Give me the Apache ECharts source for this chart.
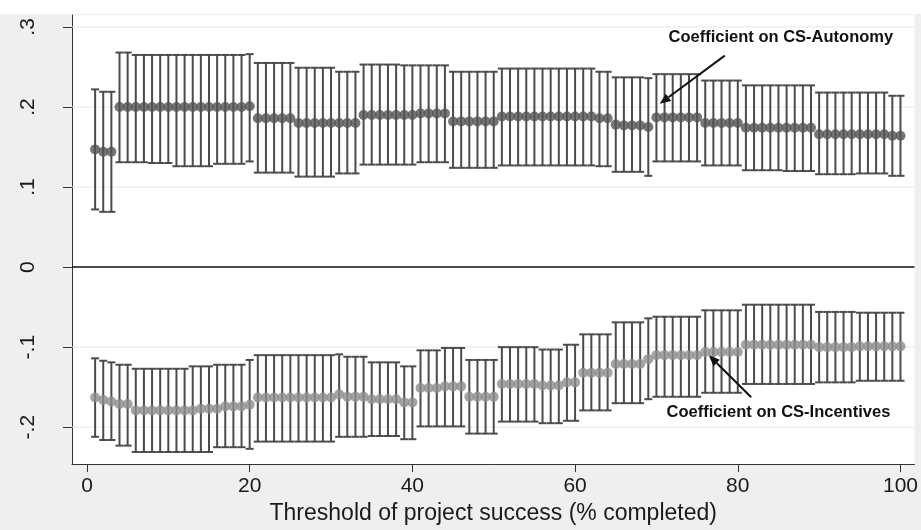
<!DOCTYPE html>
<html><head><meta charset="utf-8">
<script src="https://cdn.jsdelivr.net/npm/echarts@6/dist/echarts.min.js"></script>
<style>html,body{margin:0;padding:0;background:#efefef}#c{width:921px;height:530px}</style>
</head><body><div id="c"></div>
<script>
// ---- data ----
const thresholds = [
 1,2,3,4,5,6,7,8,9,10,
 11,12,13,14,15,16,17,18,19,20,
 21,22,23,24,25,26,27,28,29,30,
 31,32,33,34,35,36,37,38,39,40,
 41,42,43,44,45,46,47,48,49,50,
 51,52,53,54,55,56,57,58,59,60,
 61,62,63,64,65,66,67,68,69,70,
 71,72,73,74,75,76,77,78,79,80,
 81,82,83,84,85,86,87,88,89,90,
 91,92,93,94,95,96,97,98,99,100];

const autoCoef = [
 0.147,0.144,0.144,0.200,0.200,0.200,0.200,0.200,0.200,0.200,
 0.200,0.200,0.200,0.200,0.200,0.200,0.200,0.200,0.200,0.201,
 0.186,0.186,0.186,0.186,0.186,0.180,0.180,0.180,0.180,0.180,
 0.180,0.180,0.180,0.190,0.190,0.190,0.190,0.190,0.190,0.190,
 0.192,0.192,0.192,0.192,0.182,0.182,0.182,0.182,0.182,0.182,
 0.188,0.188,0.188,0.188,0.188,0.188,0.188,0.188,0.188,0.188,
 0.188,0.188,0.186,0.186,0.178,0.177,0.177,0.177,0.175,0.187,
 0.187,0.187,0.187,0.187,0.187,0.180,0.180,0.180,0.180,0.180,
 0.174,0.174,0.174,0.174,0.174,0.174,0.174,0.174,0.174,0.166,
 0.166,0.166,0.166,0.166,0.166,0.166,0.166,0.166,0.164,0.164];
const autoHi = [
 0.222,0.219,0.219,0.268,0.268,0.265,0.265,0.265,0.265,0.265,
 0.265,0.265,0.265,0.265,0.265,0.265,0.265,0.265,0.265,0.266,
 0.255,0.255,0.255,0.255,0.255,0.249,0.249,0.249,0.249,0.249,
 0.244,0.244,0.244,0.253,0.253,0.253,0.253,0.253,0.252,0.252,
 0.252,0.252,0.252,0.252,0.244,0.244,0.244,0.244,0.244,0.244,
 0.248,0.248,0.248,0.248,0.248,0.248,0.248,0.248,0.248,0.248,
 0.248,0.248,0.244,0.244,0.237,0.237,0.237,0.237,0.236,0.241,
 0.241,0.241,0.241,0.241,0.241,0.233,0.233,0.233,0.233,0.233,
 0.227,0.227,0.227,0.227,0.227,0.227,0.227,0.227,0.227,0.218,
 0.218,0.218,0.218,0.218,0.218,0.218,0.218,0.218,0.214,0.214];
const autoLo = [
 0.072,0.069,0.069,0.131,0.131,0.131,0.131,0.130,0.130,0.130,
 0.126,0.126,0.126,0.126,0.126,0.129,0.129,0.129,0.129,0.132,
 0.118,0.118,0.118,0.118,0.118,0.113,0.113,0.113,0.113,0.113,
 0.117,0.117,0.117,0.128,0.128,0.128,0.128,0.128,0.128,0.128,
 0.131,0.131,0.131,0.131,0.124,0.124,0.124,0.124,0.124,0.124,
 0.127,0.127,0.127,0.127,0.127,0.127,0.127,0.127,0.127,0.127,
 0.127,0.127,0.126,0.126,0.119,0.119,0.119,0.119,0.114,0.132,
 0.132,0.132,0.132,0.132,0.132,0.127,0.127,0.127,0.127,0.127,
 0.121,0.121,0.121,0.121,0.121,0.120,0.120,0.120,0.120,0.116,
 0.116,0.116,0.116,0.116,0.117,0.117,0.117,0.117,0.114,0.114];

const incCoef = [
 -0.163,-0.166,-0.168,-0.171,-0.171,-0.179,-0.179,-0.179,-0.179,-0.179,
 -0.179,-0.179,-0.179,-0.177,-0.177,-0.177,-0.174,-0.174,-0.174,-0.172,
 -0.163,-0.163,-0.163,-0.163,-0.163,-0.163,-0.163,-0.163,-0.163,-0.163,
 -0.159,-0.162,-0.162,-0.162,-0.165,-0.165,-0.165,-0.165,-0.169,-0.169,
 -0.151,-0.151,-0.151,-0.149,-0.149,-0.149,-0.162,-0.162,-0.162,-0.162,
 -0.146,-0.146,-0.146,-0.146,-0.146,-0.148,-0.148,-0.148,-0.144,-0.144,
 -0.132,-0.132,-0.132,-0.132,-0.121,-0.121,-0.121,-0.121,-0.115,-0.110,
 -0.110,-0.110,-0.110,-0.110,-0.110,-0.106,-0.106,-0.106,-0.106,-0.106,
 -0.097,-0.097,-0.097,-0.097,-0.097,-0.097,-0.097,-0.097,-0.097,-0.100,
 -0.100,-0.100,-0.100,-0.100,-0.099,-0.099,-0.099,-0.099,-0.099,-0.099];
const incHi = [
 -0.114,-0.117,-0.119,-0.122,-0.122,-0.127,-0.127,-0.127,-0.127,-0.127,
 -0.127,-0.127,-0.124,-0.124,-0.124,-0.122,-0.122,-0.122,-0.122,-0.116,
 -0.110,-0.110,-0.110,-0.110,-0.110,-0.110,-0.110,-0.110,-0.110,-0.110,
 -0.109,-0.112,-0.112,-0.112,-0.119,-0.119,-0.119,-0.119,-0.124,-0.124,
 -0.104,-0.104,-0.104,-0.101,-0.101,-0.101,-0.116,-0.116,-0.116,-0.116,
 -0.100,-0.100,-0.100,-0.100,-0.100,-0.103,-0.103,-0.103,-0.097,-0.097,
 -0.084,-0.084,-0.084,-0.084,-0.069,-0.069,-0.069,-0.069,-0.064,-0.062,
 -0.062,-0.062,-0.062,-0.062,-0.062,-0.054,-0.054,-0.054,-0.054,-0.054,
 -0.047,-0.047,-0.047,-0.047,-0.047,-0.047,-0.047,-0.047,-0.047,-0.056,
 -0.056,-0.056,-0.056,-0.056,-0.057,-0.057,-0.057,-0.057,-0.057,-0.057];
const incLo = [
 -0.212,-0.216,-0.216,-0.223,-0.223,-0.231,-0.231,-0.231,-0.231,-0.231,
 -0.231,-0.231,-0.231,-0.231,-0.231,-0.225,-0.225,-0.225,-0.225,-0.227,
 -0.218,-0.218,-0.218,-0.218,-0.218,-0.218,-0.218,-0.218,-0.218,-0.218,
 -0.212,-0.212,-0.212,-0.212,-0.211,-0.211,-0.211,-0.211,-0.215,-0.215,
 -0.199,-0.199,-0.199,-0.199,-0.199,-0.199,-0.208,-0.208,-0.208,-0.208,
 -0.193,-0.193,-0.193,-0.193,-0.193,-0.195,-0.195,-0.195,-0.192,-0.192,
 -0.179,-0.179,-0.179,-0.179,-0.170,-0.170,-0.170,-0.170,-0.165,-0.162,
 -0.162,-0.162,-0.162,-0.162,-0.162,-0.157,-0.157,-0.157,-0.157,-0.157,
 -0.146,-0.146,-0.146,-0.146,-0.146,-0.146,-0.146,-0.146,-0.146,-0.144,
 -0.144,-0.144,-0.144,-0.144,-0.142,-0.142,-0.142,-0.142,-0.142,-0.142];

const xTickValues = [0, 20, 40, 60, 80, 100];
const xTickLabels = ['0', '20', '40', '60', '80', '100'];
const yTickValues = [-0.2, -0.1, 0, 0.1, 0.2, 0.3];
const yTickLabels = ['-.2', '-.1', '0', '.1', '.2', '.3'];

const xTitle = 'Threshold of project success (% completed)';
const autoLabel = 'Coefficient on CS-Autonomy';
const incLabel = 'Coefficient on CS-Incentives';

// annotation anchors in data units: [textX, textY, arrowFromX, arrowFromY, arrowToX, arrowToY]
const autoNote = [85.3, 0.2872, 78.4, 0.2642, 70.4, 0.2039];
const incNote = [85.0, -0.1818, 81.65, -0.1625, 76.44, -0.1102];

// ---- chart ----
const FONT = '"Liberation Sans", Arial, sans-serif';
const chart = echarts.init(document.getElementById('c'), null, {renderer: 'canvas'});

const autoBars = thresholds.map((x, i) => [x, autoLo[i], autoHi[i]]);
const incBars = thresholds.map((x, i) => [x, incLo[i], incHi[i]]);
const autoPts = thresholds.map((x, i) => [x, autoCoef[i]]);
const incPts = thresholds.map((x, i) => [x, incCoef[i]]);

function fmt(vals, labels) {
  return function (v) {
    for (let i = 0; i < vals.length; i++) if (Math.abs(vals[i] - v) < 1e-9) return labels[i];
    return '';
  };
}

function errorBar(params, api) {
  const x = api.value(0), lo = api.value(1), hi = api.value(2);
  const t = api.coord([x, hi]), b = api.coord([x, lo]);
  const hw = 4;
  const style = {stroke: '#4b4b4b', lineWidth: 2};
  return {type: 'group', children: [
    {type: 'line', shape: {x1: t[0], y1: t[1], x2: b[0], y2: b[1]}, style},
    {type: 'line', shape: {x1: t[0] - hw, y1: t[1], x2: t[0] + hw, y2: t[1]}, style},
    {type: 'line', shape: {x1: b[0] - hw, y1: b[1], x2: b[0] + hw, y2: b[1]}, style}
  ]};
}

function gridLine(params, api) {
  const v = api.value(0);
  const cs = params.coordSys;
  const p = api.coord([0, v]);
  const isZero = Math.abs(v) < 1e-9;
  return {type: 'line', shape: {x1: cs.x, y1: p[1], x2: cs.x + cs.width, y2: p[1]},
    style: {stroke: isZero ? '#111111' : '#e8e8e8', lineWidth: isZero ? 1.5 : 1}};
}

chart.setOption({
  animation: false,
  backgroundColor: '#efefef',
  textStyle: {fontFamily: FONT},
  grid: {left: 72, right: 6, top: 15, bottom: 50, show: true, backgroundColor: '#ffffff', borderWidth: 0},
  xAxis: {
    type: 'value', min: -1.84, max: 101.72,
    axisLine: {onZero: false, lineStyle: {color: '#333', width: 1}},
    axisTick: {show: true, length: 8, customValues: xTickValues, lineStyle: {color: '#333'}},
    axisLabel: {customValues: xTickValues, formatter: fmt(xTickValues, xTickLabels),
      fontSize: 21, color: '#1a1a1a', margin: 12, fontFamily: FONT},
    splitLine: {show: false},
    name: xTitle, nameLocation: 'middle', nameGap: 32,
    nameTextStyle: {fontSize: 23, color: '#1a1a1a', fontFamily: FONT}
  },
  yAxis: {
    type: 'value', min: -0.2461, max: 0.3149,
    axisLine: {show: true, onZero: false, lineStyle: {color: '#333', width: 1}},
    axisTick: {show: true, length: 9, customValues: yTickValues, lineStyle: {color: '#333'}},
    axisLabel: {customValues: yTickValues, formatter: fmt(yTickValues, yTickLabels),
      rotate: 90, fontSize: 21, color: '#1a1a1a', margin: 33, fontFamily: FONT},
    splitLine: {show: false}
  },
  series: [
    {type: 'custom', name: 'grid', data: yTickValues.map(v => [v]), renderItem: gridLine,
     encode: {y: 0}, silent: true, z: 1},
    {type: 'custom', name: 'autoCI', data: autoBars, renderItem: errorBar, encode: {x: 0, y: [1, 2]}, z: 2},
    {type: 'custom', name: 'incCI', data: incBars, renderItem: errorBar, encode: {x: 0, y: [1, 2]}, z: 2},
    {type: 'scatter', name: 'CS-Autonomy', data: autoPts, symbol: 'circle', symbolSize: 10,
     itemStyle: {color: '#525252'}, z: 3},
    {type: 'scatter', name: 'CS-Incentives', data: incPts, symbol: 'circle', symbolSize: 10,
     itemStyle: {color: '#8d8d8d'}, z: 3}
  ]
});

function arrow(note, label) {
  const t = chart.convertToPixel({gridIndex: 0}, [note[0], note[1]]);
  const a = chart.convertToPixel({gridIndex: 0}, [note[2], note[3]]);
  const b = chart.convertToPixel({gridIndex: 0}, [note[4], note[5]]);
  const ang = Math.atan2(b[1] - a[1], b[0] - a[0]);
  const L = 11, W = 4.5;
  const bx = b[0] - L * Math.cos(ang), by = b[1] - L * Math.sin(ang);
  const px = -Math.sin(ang) * W, py = Math.cos(ang) * W;
  return [
    {type: 'text', x: t[0], y: t[1], z: 10,
     style: {text: label, font: 'bold 16.5px "Liberation Sans", Arial, sans-serif', fill: '#111',
       textAlign: 'center', textVerticalAlign: 'middle'}},
    {type: 'line', z: 10, shape: {x1: a[0], y1: a[1], x2: bx, y2: by},
     style: {stroke: '#111', lineWidth: 2}},
    {type: 'polygon', z: 10, shape: {points: [[b[0], b[1]], [bx + px, by + py], [bx - px, by - py]]},
     style: {fill: '#111'}}
  ];
}

chart.setOption({
  graphic: [
    {type: 'rect', shape: {x: 0, y: 0, width: 921, height: 14}, style: {fill: '#ffffff'}, z: 0, silent: true}
  ].concat(arrow(autoNote, autoLabel)).concat(arrow(incNote, incLabel))
});
</script>
</body></html>
